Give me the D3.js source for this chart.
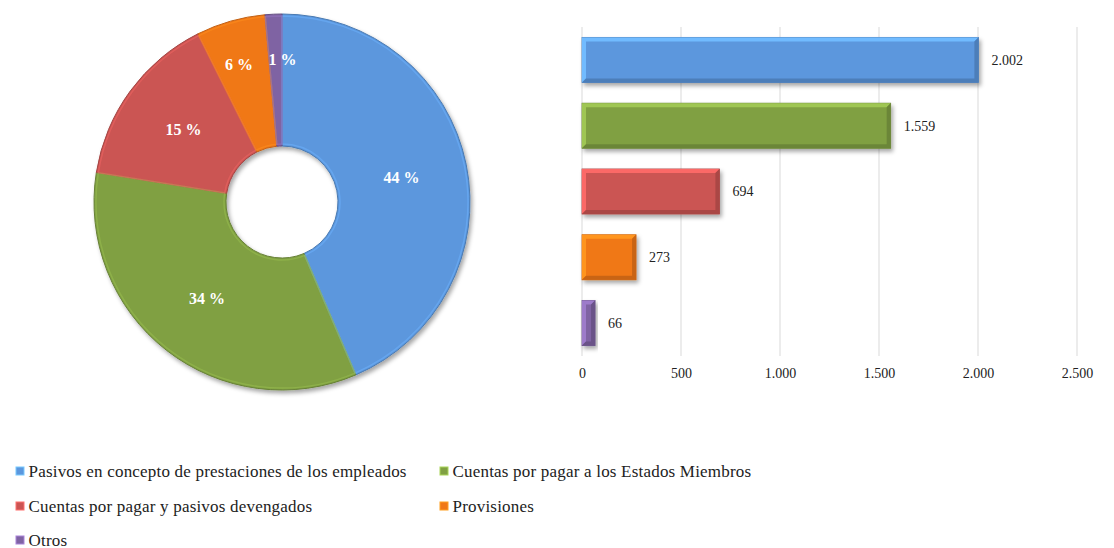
<!DOCTYPE html>
<html>
<head>
<meta charset="utf-8">
<script src="https://cdn.jsdelivr.net/npm/d3@7"></script>
<style>
  html, body { margin: 0; padding: 0; background: #fff; }
  svg { display: block; }
</style>
</head>
<body>
<svg id="chart" width="1114" height="548"></svg>
<script>
// data
const categories = [
  "Pasivos en concepto de prestaciones de los empleados",
  "Cuentas por pagar a los Estados Miembros",
  "Cuentas por pagar y pasivos devengados",
  "Provisiones",
  "Otros"
];
const values = [2002, 1559, 694, 273, 66];
const colors = ["#5b97dd", "#80a043", "#cb5553", "#f07818", "#7f63a3"];
const xTicks = [0, 500, 1000, 1500, 2000, 2500];

const serif = "Liberation Serif, Times New Roman, serif";

const svg = d3.select("#chart").attr("font-family", serif);
const defs = svg.append("defs");

// soft shadow under the marks, like the office 3D style
const shadow = defs.append("filter").attr("id", "shadow")
  .attr("x", "-10%").attr("y", "-10%").attr("width", "130%").attr("height", "140%");
shadow.append("feDropShadow")
  .attr("dx", 2).attr("dy", 3).attr("stdDeviation", 2)
  .attr("flood-color", "#000").attr("flood-opacity", 0.35);

const fmt = d3.formatLocale({ decimal: ",", thousands: ".", grouping: [3], currency: ["", ""] }).format(",d");

// ---- donut ----
const cx = 282, cy = 202;
const rOuter = 188, rInner = 56;
const total = d3.sum(values);

const pie = d3.pie().sort(null).value(d => d)(values);
const arc = d3.arc().innerRadius(rInner).outerRadius(rOuter);
const arcBevel = d3.arc().innerRadius(rInner + 2).outerRadius(rOuter - 2);

const gPie = svg.append("g").attr("transform", `translate(${cx},${cy})`);

gPie.append("g").attr("filter", "url(#shadow)")
  .selectAll("path").data(pie).join("path")
  .attr("d", arc)
  .attr("fill", (d, i) => colors[i])
  .attr("stroke", (d, i) => d3.color(colors[i]).darker(0.6))
  .attr("stroke-width", 1);

// faint inner highlight to hint at the bevel
gPie.append("g").selectAll("path").data(pie).join("path")
  .attr("d", arcBevel)
  .attr("fill", "none")
  .attr("stroke", (d, i) => d3.color(colors[i]).brighter(0.5))
  .attr("stroke-opacity", 0.5)
  .attr("stroke-width", 1.5);

// big slices: label at the ring centre; thin slices: pushed out near the rim
const labelArc = d3.arc().innerRadius(rInner).outerRadius(rOuter);
const outerLabelArc = d3.arc().innerRadius(143).outerRadius(143);

gPie.append("g").selectAll("text").data(pie).join("text")
  .attr("transform", d => {
    const share = d.value / total;
    let [px, py] = share < 0.1 ? outerLabelArc.centroid(d) : labelArc.centroid(d);
    if (share < 0.02) px += 7;
    else if (share < 0.1) px -= 4;
    return `translate(${px},${py})`;
  })
  .attr("text-anchor", "middle")
  .attr("dy", "0.35em")
  .attr("fill", "#fff")
  .attr("font-weight", "bold")
  .attr("font-size", 16)
  .text(d => Math.round(d.value / total * 100) + " %");

// ---- bars ----
const x = d3.scaleLinear().domain([0, 2500]).range([582, 1077]);
const y = d3.scaleBand().domain(categories).range([27, 356]).paddingInner(0.315).paddingOuter(0.158);

const gBar = svg.append("g");

gBar.append("g").selectAll("line").data(xTicks).join("line")
  .attr("x1", d => x(d)).attr("x2", d => x(d))
  .attr("y1", 27).attr("y2", 356)
  .attr("stroke", "#d9d9d9").attr("stroke-width", 1);

const xAxis = d3.axisBottom(x).tickValues(xTicks).tickFormat(fmt).tickSize(0).tickPadding(0);
const axisG = gBar.append("g").attr("transform", "translate(0,368)").call(xAxis);
axisG.select(".domain").remove();
axisG.attr("font-family", serif);
axisG.selectAll("text").attr("font-size", 14).attr("fill", "#222");

const bars = gBar.append("g").selectAll("g").data(values).join("g");

bars.append("rect")
  .attr("x", x(0))
  .attr("y", (d, i) => y(categories[i]))
  .attr("width", d => x(d) - x(0))
  .attr("height", y.bandwidth())
  .attr("fill", (d, i) => colors[i])
  .attr("stroke", (d, i) => d3.color(colors[i]).darker(0.5))
  .attr("stroke-width", 0.8)
  .attr("filter", "url(#shadow)");

// bevel: light top/left edge, dark bottom/right edge
const bev = 4;
bars.append("path")
  .attr("d", (d, i) => {
    const x0 = x(0), x1 = x(d), y0 = y(categories[i]), h = y.bandwidth();
    const b = Math.min(bev, (x1 - x0) / 2);
    return `M${x0},${y0}L${x1},${y0}L${x1 - b},${y0 + bev}L${x0 + b},${y0 + bev}Z` +
           `M${x0},${y0}L${x0 + b},${y0 + bev}L${x0 + b},${y0 + h - bev}L${x0},${y0 + h}Z`;
  })
  .attr("fill", (d, i) => d3.color(colors[i]).brighter(0.6));
bars.append("path")
  .attr("d", (d, i) => {
    const x0 = x(0), x1 = x(d), y0 = y(categories[i]), h = y.bandwidth();
    const b = Math.min(bev, (x1 - x0) / 2);
    return `M${x0},${y0 + h}L${x1},${y0 + h}L${x1 - b},${y0 + h - bev}L${x0 + b},${y0 + h - bev}Z` +
           `M${x1},${y0}L${x1 - b},${y0 + bev}L${x1 - b},${y0 + h - bev}L${x1},${y0 + h}Z`;
  })
  .attr("fill", (d, i) => d3.color(colors[i]).darker(0.5));

bars.append("text")
  .attr("x", d => x(d) + 13)
  .attr("y", (d, i) => y(categories[i]) + y.bandwidth() / 2)
  .attr("dy", "0.35em")
  .attr("font-size", 14)
  .attr("fill", "#222")
  .text(d => fmt(d));

// ---- legend ----
const legendPos = [[16, 471], [440, 471], [16, 506], [440, 506], [16, 540]];
const legend = svg.append("g").selectAll("g").data(categories).join("g")
  .attr("transform", (d, i) => `translate(${legendPos[i][0]},${legendPos[i][1]})`);

legend.append("rect")
  .attr("x", 0).attr("y", -4).attr("width", 8).attr("height", 8)
  .attr("fill", (d, i) => colors[i])
  .attr("stroke", (d, i) => d3.color(colors[i]).brighter(0.8))
  .attr("stroke-width", 1);

legend.append("text")
  .attr("x", 12.5).attr("dy", "0.35em")
  .attr("font-size", 17)
  .attr("letter-spacing", 0.2)
  .attr("fill", "#222")
  .text(d => d);
</script>
</body>
</html>
